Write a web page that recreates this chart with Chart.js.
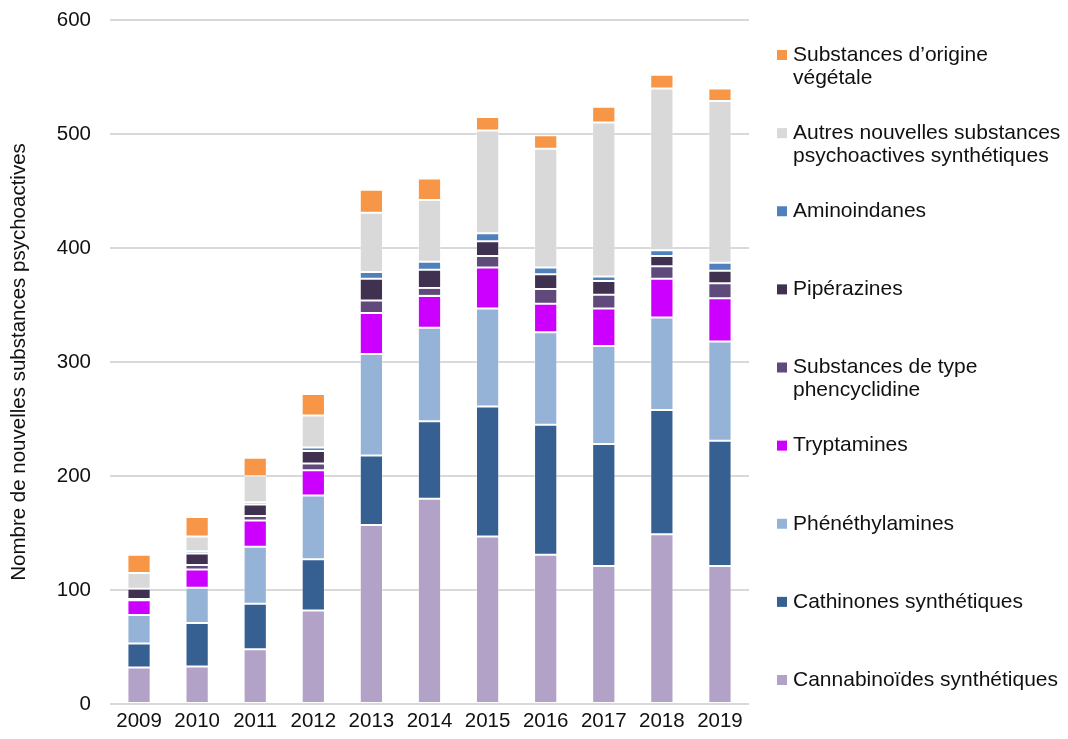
<!DOCTYPE html>
<html lang="fr">
<head>
<meta charset="utf-8">
<title>Nouvelles substances psychoactives</title>
<script src="https://cdn.jsdelivr.net/npm/chart.js@4"></script>
<style>
  html, body { margin: 0; padding: 0; background: #fff; }
  #wrap { width: 1068px; height: 739px; position: relative; }
</style>
</head>
<body>
<div id="wrap"><canvas id="nspChart"></canvas></div>
<script>
// Années et nombre de substances par groupe
const annees = ['2009', '2010', '2011', '2012', '2013', '2014', '2015', '2016', '2017', '2018', '2019'];
const cannabinoides = [32, 33, 48, 82, 157, 180, 147, 131, 121, 149, 121];
const cathinones = [21, 38, 40, 45, 61, 68, 114, 114, 107, 109, 110];
const phenethylamines = [25, 31, 50, 56, 89, 82, 86, 81, 86, 81, 87];
const tryptamines = [13, 16, 23, 22, 36, 28, 36, 25, 33, 34, 38];
const phencyclidines = [1, 4, 4, 6, 11, 7, 10, 13, 12, 11, 13];
const piperazines = [9, 10, 10, 11, 19, 16, 13, 13, 12, 9, 11];
const aminoindanes = [0, 2, 2, 3, 6, 7, 7, 6, 4, 5, 7];
const autresSynthetiques = [14, 13, 23, 28, 52, 54, 90, 104, 135, 142, 142];
const origineVegetale = [16, 17, 16, 19, 20, 19, 12, 12, 14, 12, 11];
const ticksY = [0, 100, 200, 300, 400, 500, 600];

const police = "Arial, 'Liberation Sans', sans-serif";

function serie(label, data, couleur) {
    return {
        label: label,
        data: data,
        backgroundColor: couleur,
        borderColor: 'rgba(255, 255, 255, 0.3)',
        borderWidth: 1,
        borderSkipped: false,
        barPercentage: 0.4,
        categoryPercentage: 1
    };
}

// Légende dessinée à droite, dans l'ordre inverse des séries
const legendeDroite = {
    id: 'legendeDroite',
    afterDraw(chart) {
        const { ctx, chartArea } = chart;
        const sets = chart.data.datasets.slice().reverse();
        const x0 = chartArea.right + 28;
        const y0 = chartArea.top + 35;
        const pas = (chartArea.bottom - 24 - y0) / (sets.length - 1);
        ctx.save();
        ctx.font = '21px ' + police;
        ctx.textBaseline = 'middle';
        ctx.textAlign = 'left';
        sets.forEach((ds, i) => {
            const y = y0 + i * pas;
            ctx.fillStyle = ds.backgroundColor;
            ctx.fillRect(x0, y - 5, 10, 10);
            ctx.fillStyle = '#111';
            ds.lignes.forEach((ligne, j) => {
                ctx.fillText(ligne, x0 + 16, y + j * 23);
            });
        });
        ctx.restore();
    }
};

document.addEventListener('DOMContentLoaded', () => {
    const ctx = document.getElementById('nspChart');

    const datasets = [
        serie('Cannabinoïdes synthétiques', cannabinoides, '#b3a2c7'),
        serie('Cathinones synthétiques', cathinones, '#366092'),
        serie('Phénéthylamines', phenethylamines, '#95b3d7'),
        serie('Tryptamines', tryptamines, '#cc00ff'),
        serie('Substances de type phencyclidine', phencyclidines, '#604a7b'),
        serie('Pipérazines', piperazines, '#403151'),
        serie('Aminoindanes', aminoindanes, '#4f81bd'),
        serie('Autres nouvelles substances psychoactives synthétiques', autresSynthetiques, '#d9d9d9'),
        serie('Substances d’origine végétale', origineVegetale, '#f79646')
    ];
    const lignes = [
        ['Cannabinoïdes synthétiques'],
        ['Cathinones synthétiques'],
        ['Phénéthylamines'],
        ['Tryptamines'],
        ['Substances de type', 'phencyclidine'],
        ['Pipérazines'],
        ['Aminoindanes'],
        ['Autres nouvelles substances', 'psychoactives synthétiques'],
        ['Substances d’origine', 'végétale']
    ];
    datasets.forEach((ds, i) => { ds.lignes = lignes[i]; });

    new Chart(ctx, {
        type: 'bar',
        data: { labels: annees, datasets: datasets },
        plugins: [legendeDroite],
        options: {
            responsive: true,
            maintainAspectRatio: false,
            animation: false,
            layout: { padding: { top: 20, right: 319, left: 0, bottom: 0 } },
            plugins: {
                legend: { display: false },
                tooltip: { enabled: false }
            },
            scales: {
                x: {
                    stacked: true,
                    grid: { display: false, drawTicks: false },
                    border: { display: false },
                    ticks: { color: '#111', font: { family: police, size: 20.5 }, padding: 5 },
                    afterFit(scale) {
                        scale.height = 35;
                        scale.paddingLeft = 0;
                        scale.paddingRight = 0;
                    }
                },
                y: {
                    stacked: true,
                    min: 0,
                    max: 600,
                    afterBuildTicks(scale) { scale.ticks = ticksY.map(v => ({ value: v })); },
                    grid: { color: '#d9d9d9', lineWidth: 2, drawTicks: false },
                    border: { display: false },
                    ticks: { color: '#111', font: { family: police, size: 20.5 }, padding: 19 },
                    title: {
                        display: true,
                        text: 'Nombre de nouvelles substances psychoactives',
                        color: '#111',
                        font: { family: police, size: 20.5 },
                        padding: { top: 7, bottom: 0 }
                    },
                    afterFit(scale) {
                        scale.width = 110;
                        scale.paddingTop = 0;
                        scale.paddingBottom = 0;
                    }
                }
            }
        }
    });
});
</script>
</body>
</html>
